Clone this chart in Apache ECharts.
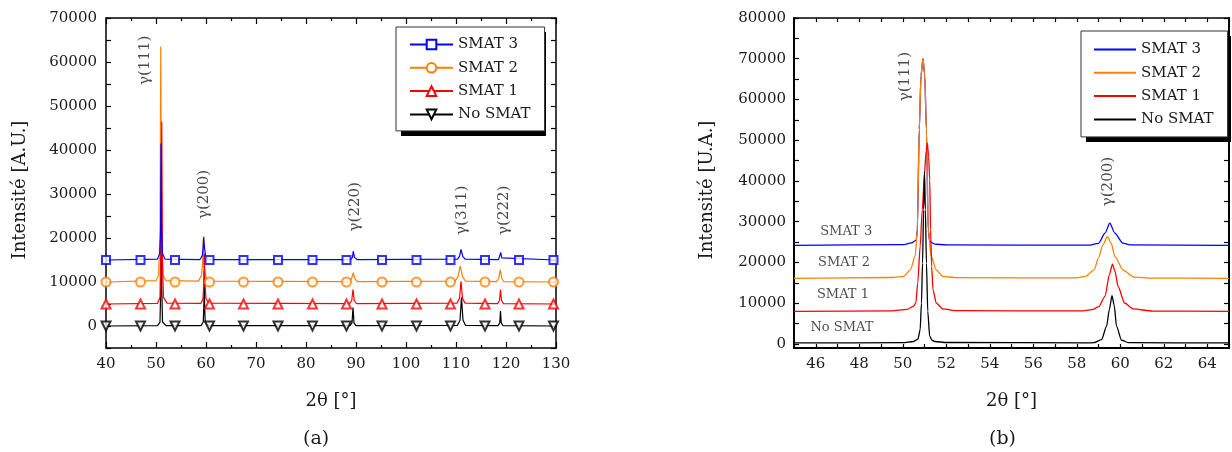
<!DOCTYPE html>
<html>
<head>
<meta charset="utf-8">
<script src="https://cdn.jsdelivr.net/npm/echarts@6/dist/echarts.min.js"></script>
<style>html,body{margin:0;padding:0;background:#fff}#c{width:1232px;height:452px}</style>
</head>
<body>
<div id="c"></div>
<script>
// ---------- DATA (chart a) ----------
const seriesNames = ['SMAT 3', 'SMAT 2', 'SMAT 1', 'No SMAT'];
const noSmatA = [[40,0],[50.3,100],[50.8,900],[50.95,9000],[51.05,42000],[51.15,9000],[51.3,900],[52,100],[59,100],[59.45,900],[59.57,4500],[59.65,12500],[59.73,4500],[59.85,900],[60.5,100],[88.8,100],[89.2,700],[89.4,4200],[89.6,700],[90,100],[110.3,150],[110.8,1300],[111.1,6450],[111.4,1300],[111.9,150],[118.4,100],[118.75,700],[118.9,3400],[119.05,700],[119.4,100],[130,0]];
const smat1A = [[40,5000],[50.3,5150],[50.8,6500],[51.0,20000],[51.15,46400],[51.3,14000],[51.5,6500],[52.2,5200],[59,5150],[59.4,6200],[59.55,9500],[59.68,16400],[59.8,9500],[60,6200],[60.6,5200],[88.7,5100],[89.15,5800],[89.4,8300],[89.65,5800],[90.1,5100],[110.2,5200],[110.7,6300],[111.0,10150],[111.3,6300],[111.8,5200],[118.3,5100],[118.7,5800],[118.9,8300],[119.1,5800],[119.5,5100],[130,5000]];
const smat2A = [[40,10000],[50,10300],[50.5,11500],[50.8,20000],[50.95,63500],[51.1,20000],[51.4,11500],[52,10300],[58.5,10200],[59.1,11500],[59.3,14000],[59.45,20000],[59.6,14000],[59.85,11500],[60.5,10200],[88.7,10100],[89.1,10700],[89.45,12100],[89.8,10700],[90.3,10100],[109.8,10200],[110.4,11200],[110.85,13600],[111.3,11200],[111.9,10200],[118.1,10100],[118.55,10800],[118.85,12800],[119.15,10800],[119.6,10100],[130,10000]];
const smat3A = [[40,15000],[50.3,15200],[50.75,16500],[50.92,22000],[51.0,41500],[51.1,22000],[51.3,16500],[51.8,15200],[58.8,15100],[59.25,16000],[59.45,18000],[59.55,20300],[59.68,18000],[59.9,16000],[60.4,15100],[88.9,15100],[89.3,15600],[89.45,17000],[89.7,15600],[90.2,15100],[110.3,15200],[110.7,15800],[111.0,17400],[111.35,15800],[111.8,15200],[118.5,15100],[118.8,15500],[118.95,16700],[119.15,15500],[119.5,15100],[130,15000]];
// marker positions (x) and the baseline level of each curve under them
const markerX = [40, 46.9, 53.8, 60.7, 67.5, 74.4, 81.3, 88.1, 95.2, 102.1, 108.9, 115.8, 122.6, 129.5];
const markerBase = [15000, 10000, 5000, 0]; // SMAT 3, SMAT 2, SMAT 1, No SMAT
const peakTextA = ['γ(111)', 'γ(200)', 'γ(220)', 'γ(311)', 'γ(222)'];
const peakXA = [47.8, 59.6, 89.8, 111.3, 119.6];
const peakYA = [60400, 29900, 27100, 26300, 26300];
const yLabelsA = [0, 10000, 20000, 30000, 40000, 50000, 60000, 70000];

// ---------- DATA (chart b) ----------
const noSmatB = [[45,250],[50,300],[50.5,600],[50.7,1200],[50.8,3500],[50.86,10000],[50.91,19800],[50.96,33000],[51.0,42300],[51.04,33000],[51.09,19800],[51.15,8000],[51.24,1860],[51.35,900],[51.47,600],[52,350],[58.5,250],[58.8,300],[59.14,1050],[59.37,4300],[59.5,8500],[59.62,11840],[59.72,9500],[59.83,4300],[60.06,900],[60.4,300],[65,250]];
const smat1B = [[45,8000],[49.5,8100],[50.2,8500],[50.5,9300],[50.6,10050],[50.69,15000],[50.8,24000],[50.9,33000],[51.0,42000],[51.08,47500],[51.13,49300],[51.19,46000],[51.24,40300],[51.28,28000],[51.33,19000],[51.39,13300],[51.54,10000],[51.84,8600],[52.5,8150],[58.2,8100],[58.7,8400],[59.0,9070],[59.3,11670],[59.5,17000],[59.64,19600],[59.76,17800],[59.9,14100],[60.2,10050],[60.6,8600],[61.5,8050],[65,8000]];
const smat2B = [[45,16100],[49.5,16300],[50.05,16600],[50.35,18200],[50.57,21500],[50.67,28000],[50.76,52700],[50.84,66000],[50.93,70000],[51.01,66000],[51.09,52500],[51.17,28000],[51.31,21500],[51.54,18200],[51.84,16600],[52.5,16250],[58.0,16200],[58.4,16570],[58.8,18200],[59.0,21100],[59.2,24300],[59.41,26400],[59.58,24800],[59.75,21500],[60.12,18200],[60.64,16400],[61.5,16150],[65,16100]];
const smat3B = [[45,24200],[50.0,24350],[50.4,24800],[50.62,25500],[50.67,28000],[50.76,52700],[50.84,66000],[50.93,70000],[51.01,66000],[51.09,52500],[51.17,28000],[51.24,25150],[51.47,24500],[52,24300],[58.6,24250],[59.0,24700],[59.3,27200],[59.52,29650],[59.75,27200],[60.12,24750],[60.5,24300],[65,24200]];
const curveTextB = ['SMAT 3', 'SMAT 2', 'SMAT 1', 'No SMAT'];
const curveTextXB = [47.4, 47.3, 47.25, 47.2];
const curveTextYB = [27500, 20000, 12100, 3900];
const peakTextB = ['γ(111)', 'γ(200)'];
const peakXB = [50.12, 59.45];
const peakYB = [65600, 39850];
const yTicksB = [0,5000,10000,15000,20000,25000,30000,35000,40000,45000,50000,55000,60000,65000,70000,75000,80000];
const yLabelsB = [0,10000,20000,30000,40000,50000,60000,70000,80000];

// ---------- STYLE ----------
const FONT = 'DejaVu Serif';
const TXT = '#1a1a1a';
const colors = {'SMAT 3':'#0000ff','SMAT 2':'#ff8000','SMAT 1':'#ff0000','No SMAT':'#000000'};
const symbols = {'SMAT 3':'emptyRect','SMAT 2':'emptyCircle','SMAT 1':'emptyTriangle','No SMAT':'emptyTriangle'};
const rotates = {'SMAT 3':0,'SMAT 2':0,'SMAT 1':0,'No SMAT':180};
const dataA = {'SMAT 3':smat3A,'SMAT 2':smat2A,'SMAT 1':smat1A,'No SMAT':noSmatA};
const dataB = {'SMAT 3':smat3B,'SMAT 2':smat2B,'SMAT 1':smat1B,'No SMAT':noSmatB};

function xAxisBase(grid, pos, lw) {
  return {type:'value', gridIndex:grid, position:pos, splitLine:{show:false},
    axisLine:{show:true, onZero:false, lineStyle:{color:'#000', width:lw}},
    axisTick:{show:true, inside:true, length:6, lineStyle:{color:'#000', width:1.2}},
    axisLabel:{show:false}};
}
const xAxes = [];
let a0 = xAxisBase(0,'bottom',1.5);
Object.assign(a0, {min:40, max:130, interval:10,
  minorTick:{show:true, splitNumber:2, length:3, lineStyle:{color:'#000', width:1.2}},
  axisLabel:{show:true, fontFamily:FONT, fontSize:15, color:TXT, margin:9},
  name:'2θ [°]', nameLocation:'middle', nameGap:44, nameTextStyle:{fontFamily:FONT, fontSize:18, color:TXT}});
xAxes.push(a0);
let a1 = xAxisBase(0,'top',1.5);
Object.assign(a1, {min:40, max:130, interval:10, minorTick:{show:true, splitNumber:2, length:3, lineStyle:{color:'#000', width:1.2}}});
xAxes.push(a1);
let a2 = xAxisBase(1,'bottom',2);
Object.assign(a2, {min:45, max:65, interval:1,
  axisTick:{show:true, inside:true, length:4, lineStyle:{color:'#000', width:1.2}},
  axisLabel:{show:true, fontFamily:FONT, fontSize:15, color:TXT, margin:9, formatter:v => (v % 2 === 0 ? String(v) : '')},
  name:'2θ [°]', nameLocation:'middle', nameGap:44, nameTextStyle:{fontFamily:FONT, fontSize:18, color:TXT}});
xAxes.push(a2);
let a3 = xAxisBase(1,'top',1.5);
Object.assign(a3, {min:45, max:65, interval:1, axisTick:{show:true, inside:true, length:4, lineStyle:{color:'#000', width:1.2}}});
xAxes.push(a3);

const yAxes = [
  {type:'value', gridIndex:0, position:'left', min:-5000, max:70000, interval:5000, splitLine:{show:false},
   axisLine:{show:true, onZero:false, lineStyle:{color:'#000', width:1.5}},
   axisTick:{show:true, inside:true, length:5, lineStyle:{color:'#000', width:1.2}},
   axisLabel:{show:true, fontFamily:FONT, fontSize:15, color:TXT, margin:9, formatter:v => (yLabelsA.indexOf(v) >= 0 ? String(v) : '')},
   name:'Intensité [A.U.]', nameLocation:'middle', nameGap:77, nameRotate:90,
   nameTextStyle:{fontFamily:FONT, fontSize:18, color:TXT, padding:[0,14,0,0]}},
  {type:'value', gridIndex:0, position:'right', min:-5000, max:70000, interval:5000, splitLine:{show:false},
   axisLine:{show:true, onZero:false, lineStyle:{color:'#000', width:1.5}},
   axisTick:{show:true, inside:true, length:5, lineStyle:{color:'#000', width:1.2}},
   axisLabel:{show:false}},
  {type:'value', gridIndex:1, position:'left', min:-1000, max:80000, splitLine:{show:false},
   axisLine:{show:true, onZero:false, lineStyle:{color:'#000', width:2}},
   axisTick:{show:true, inside:true, length:5, customValues:yTicksB, lineStyle:{color:'#000', width:1.2}},
   axisLabel:{show:true, customValues:yLabelsB, formatter:v => String(v), fontFamily:FONT, fontSize:15, color:TXT, margin:8},
   name:'Intensité [U.A.]', nameLocation:'middle', nameGap:78, nameRotate:90,
   nameTextStyle:{fontFamily:FONT, fontSize:18, color:TXT, padding:[0,14,0,0]}},
  {type:'value', gridIndex:1, position:'right', min:-1000, max:80000, splitLine:{show:false},
   axisLine:{show:true, onZero:false, lineStyle:{color:'#000', width:2}},
   axisTick:{show:true, inside:true, length:5, customValues:yTicksB, lineStyle:{color:'#000', width:1.2}},
   axisLabel:{show:false}}
];

const series = [];
// chart a lines (draw order: No SMAT, SMAT 2, SMAT 1, SMAT 3)
['No SMAT','SMAT 2','SMAT 1','SMAT 3'].forEach(n => {
  series.push({type:'line', name:n, xAxisIndex:0, yAxisIndex:0, data:dataA[n],
    symbol:symbols[n], symbolRotate:rotates[n], showSymbol:false, color:colors[n],
    lineStyle:{width:1.2, color:colors[n]}, itemStyle:{color:colors[n], borderWidth:1},
    silent:true, clip:false});
});
// chart a markers
seriesNames.forEach((n, i) => {
  series.push({type:'scatter', name:'mk ' + n, xAxisIndex:0, yAxisIndex:0,
    data:markerX.map(x => [x, markerBase[i]]), symbol:symbols[n], symbolRotate:rotates[n],
    symbolSize: n === 'SMAT 3' ? 8 : 9, clip:false, silent:true, z:3,
    itemStyle:{color:colors[n], borderColor:colors[n], borderWidth:1.2}});
});
// chart b lines
['SMAT 3','SMAT 2','SMAT 1','No SMAT'].forEach(n => {
  series.push({type:'line', name:n, xAxisIndex:2, yAxisIndex:2, data:dataB[n],
    symbol:'none', showSymbol:false, color:colors[n], smooth:0.25, smoothMonotone:'x',
    lineStyle:{width:1.3, color:colors[n]}, silent:true});
});
// annotations
series.push({type:'scatter', name:'annA', xAxisIndex:0, yAxisIndex:0, symbolSize:0, silent:true,
  data:peakTextA.map((t, i) => ({name:t, value:[peakXA[i], peakYA[i]]})),
  label:{show:true, position:'inside', rotate:90, formatter:'{b}', fontFamily:FONT, fontSize:15, color:TXT}});
series.push({type:'scatter', name:'annB', xAxisIndex:2, yAxisIndex:2, symbolSize:0, silent:true,
  data:peakTextB.map((t, i) => ({name:t, value:[peakXB[i], peakYB[i]]})),
  label:{show:true, position:'inside', rotate:90, formatter:'{b}', fontFamily:FONT, fontSize:15, color:TXT}});
series.push({type:'scatter', name:'lblB', xAxisIndex:2, yAxisIndex:2, symbolSize:0, silent:true,
  data:curveTextB.map((t, i) => ({name:t, value:[curveTextXB[i], curveTextYB[i]]})),
  label:{show:true, position:'inside', formatter:'{b}', fontFamily:FONT, fontSize:13, color:TXT}});

const legendCommon = {orient:'vertical', backgroundColor:'#fff', borderColor:'#333', borderWidth:1,
  itemGap:6.3, textStyle:{fontFamily:FONT, fontSize:15, color:TXT, lineHeight:17}, selectedMode:false, z:10};

const option = {
  animation:false,
  title:[
    {text:'(a)', left:298, top:425, textStyle:{fontFamily:FONT, fontSize:19, fontWeight:'normal', color:TXT}},
    {text:'(b)', left:984, top:425, textStyle:{fontFamily:FONT, fontSize:19, fontWeight:'normal', color:TXT}}
  ],
  grid:[
    {left:106, top:18, width:450, height:330},
    {left:794, top:18, width:447, height:330}
  ],
  // drop shadows of the two legend boxes
  graphic:[
    {type:'rect', z:8, silent:true, shape:{x:401, y:32, width:145, height:104}, style:{fill:'#000'}},
    {type:'rect', z:8, silent:true, shape:{x:1086, y:36, width:145, height:106}, style:{fill:'#000'}}
  ],
  legend:[
    Object.assign({}, legendCommon, {left:396, top:27, padding:[9,14,8,13], itemWidth:43, itemHeight:12,
      data:seriesNames}),
    Object.assign({}, legendCommon, {left:1081, top:31, padding:[10,14,9,13], itemWidth:42, itemHeight:2,
      data:seriesNames.map(n => ({name:n, icon:'rect'}))})
  ],
  xAxis:xAxes,
  yAxis:yAxes,
  series:series
};
const chart = echarts.init(document.getElementById('c'), null, {renderer:'canvas'});
chart.setOption(option);
</script>
</body>
</html>
